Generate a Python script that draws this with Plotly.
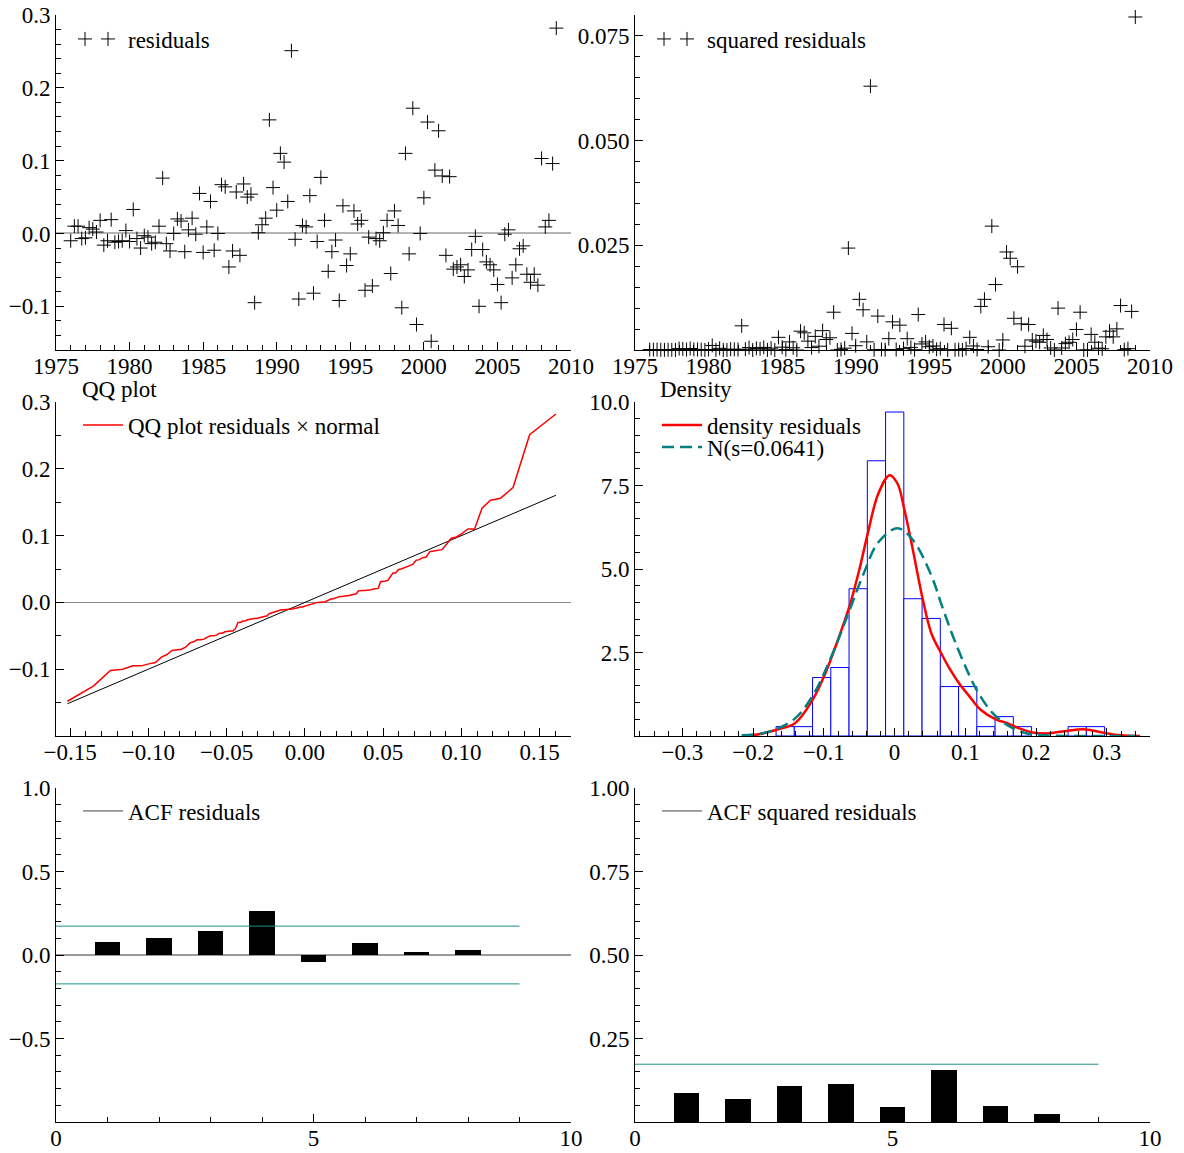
import plotly.graph_objects as go
from statistics import NormalDist, mean

# ---------------- data ----------------
start_year = 1976.0          # first quarterly observation (1976Q1)
quarter_step = 0.25

residuals = [
    -0.010, 0.010, 0.010, -0.007,     # 1976
    -0.006, 0.008, 0.006, 0.002,      # 1977
    0.018, -0.016, -0.010, 0.019,     # 1978
    -0.012, -0.011, -0.010, 0.004,    # 1979
    -0.011, 0.033, -0.007, -0.020,    # 1980
    -0.003, -0.005, -0.014, -0.012,   # 1981
    0.010, 0.076, -0.014, -0.024,     # 1982
    0.000, 0.020, 0.017, -0.025,      # 1983
    0.005, 0.021, -0.001, 0.055,      # 1984
    -0.026, 0.009, 0.044, -0.023,     # 1985
    0.000, 0.067, 0.064, -0.046,      # 1986
    -0.024, 0.057, -0.030, 0.068,     # 1987
    0.050, 0.054, -0.095, 0.001,      # 1988
    0.012, 0.021, 0.156, 0.063,       # 1989
    0.032, 0.110, 0.098, 0.044,       # 1990
    0.251, -0.008, -0.090, 0.011,     # 1991
    0.009, 0.052, -0.082, -0.011,     # 1992
    0.077, 0.018, -0.052, -0.025,     # 1993
    -0.009, -0.092, 0.038, -0.044,    # 1994
    -0.028, 0.031, 0.013, 0.018,      # 1995
    -0.078, -0.005, -0.072, -0.007,   # 1996
    -0.010, 0.001, 0.018, -0.055,     # 1997
    0.031, 0.011, -0.102, 0.110,      # 1998
    -0.028, 0.172, -0.125, 0.000,     # 1999
    0.049, 0.153, -0.148, 0.087,      # 2000
    0.141, 0.079, -0.030, 0.078,      # 2001
    -0.049, -0.046, -0.043, -0.059,   # 2002
    -0.050, -0.022, -0.004, -0.100,   # 2003
    -0.022, -0.039, -0.043, -0.050,   # 2004
    -0.070, -0.095, -0.001, 0.005,    # 2005
    -0.061, -0.043, -0.021, -0.017,   # 2006
    -0.056, -0.067, -0.056, -0.071,   # 2007
    0.103, 0.009, 0.018, 0.096,       # 2008
    0.282,                            # 2009
]

normal_s = 0.0641

# histogram (density scale), non-empty bins only
hist_bin_width = 0.0258
hist_left_edges = [-0.1676, -0.1418, -0.1160, -0.0902, -0.0644, -0.0386, -0.0128,
                   0.0130, 0.0388, 0.0646, 0.0904, 0.1162, 0.1420, 0.1678,
                   0.2452, 0.2710]
hist_density = [0.28, 0.28, 1.75, 2.05, 4.41, 8.24, 9.70,
                4.11, 3.52, 1.48, 1.48, 0.28, 0.58, 0.28,
                0.28, 0.28]

# kernel density of residuals
kde_x = [-0.216, -0.19, -0.168, -0.141, -0.116, -0.098, -0.082, -0.064, -0.050, -0.038,
         -0.023, -0.007, 0.004, 0.014, 0.025, 0.040, 0.052, 0.066, 0.079, 0.091,
         0.106, 0.122, 0.143, 0.160, 0.176, 0.197, 0.218, 0.245, 0.267, 0.288,
         0.315, 0.347]
kde_y = [0.00, 0.06, 0.18, 0.38, 1.08, 1.87, 2.77, 3.87, 4.97, 6.06,
         7.26, 7.81, 7.56, 6.76, 5.66, 4.07, 3.07, 2.47, 1.97, 1.58,
         1.18, 0.78, 0.50, 0.38, 0.23, 0.10, 0.08, 0.16, 0.20, 0.13,
         0.03, 0.00]

# fitted normal density
norm_x = [-0.216, -0.19, -0.168, -0.141, -0.116, -0.089, -0.064, -0.044, -0.023, 0.004,
          0.025, 0.052, 0.066, 0.084, 0.106, 0.118, 0.138, 0.160, 0.186, 0.213,
          0.256, 0.342]
norm_y = [0.02, 0.07, 0.20, 0.52, 1.20, 2.40, 3.75, 4.85, 5.80, 6.22,
          5.89, 4.80, 3.95, 2.90, 1.80, 1.30, 0.70, 0.32, 0.08, 0.02,
          0.00, 0.00]

# autocorrelations
acf_lags = [1, 2, 3, 4, 5, 6, 7, 8]
acf_residuals = [0.075, 0.099, 0.141, 0.262, -0.040, 0.069, 0.020, 0.030]
acf_sq_residuals = [0.088, 0.069, 0.108, 0.114, 0.045, 0.156, 0.047, 0.024]
acf_band = 0.173
acf_band_lags = [0, 9]

# tick labels
year_ticks = [1975, 1980, 1985, 1990, 1995, 2000, 2005, 2010]
res_ticks = [-0.1, 0.0, 0.1, 0.2, 0.3]
sq_ticks = [0.025, 0.050, 0.075]
qq_x_ticks = [-0.15, -0.10, -0.05, 0.00, 0.05, 0.10, 0.15]
qq_y_ticks = [-0.1, 0.0, 0.1, 0.2, 0.3]
dens_x_ticks = [-0.3, -0.2, -0.1, 0, 0.1, 0.2, 0.3]
dens_x_text = ["\u22120.3", "\u22120.2", "\u22120.1", "0", "0.1", "0.2", "0.3"]
dens_y_ticks = [2.5, 5.0, 7.5, 10.0]
acf_x_ticks = [0, 5, 10]
acf_y_ticks = [-0.5, 0.0, 0.5, 1.0]
acfsq_y_ticks = [0.25, 0.50, 0.75, 1.00]

# ---------------- derived series ----------------
years = [start_year + quarter_step * i for i in range(len(residuals))]
sq_residuals = [r * r for r in residuals]
n = len(residuals)
mu = mean(residuals)
qq_y = sorted(residuals)
qq_x = [mu + normal_s * NormalDist().inv_cdf(i / (n + 1)) for i in range(1, n + 1)]
hist_centers = [e + hist_bin_width / 2 for e in hist_left_edges]

# ---------------- layout helpers ----------------
W, H = 1184, 1153
FONT = "Liberation Serif"
FS = 23


def dom_x(a, b):
    return [a / W, b / W]


def dom_y(top, bottom):
    return [1 - bottom / H, 1 - top / H]


def fmt(v, d):
    s = f"{abs(v):.{d}f}"
    return ("\u2212" + s) if v < 0 else s


def axis(domain, rng, tickvals, ticktext, minor_dtick, anchor, is_x, **kw):
    d = dict(domain=domain, range=rng, anchor=anchor,
             showline=True, linecolor="black", linewidth=1,
             ticks="inside", ticklen=8, tickwidth=1, tickcolor="black",
             tickmode="array", tickvals=tickvals, ticktext=ticktext,
             minor=dict(ticks="inside", ticklen=5, tickwidth=1, tickcolor="black",
                        dtick=minor_dtick, tick0=0, showgrid=False),
             showgrid=False, zeroline=False, automargin=False, fixedrange=True,
             tickfont=dict(family=FONT, size=FS, color="black"))
    if is_x:
        d["ticklabelstandoff"] = -5
    d.update(kw)
    return d


LX = dom_x(56, 571)
RX = dom_x(635, 1150)
ROW1 = dom_y(15, 350)
ROW2 = dom_y(402, 736)
ROW3 = dom_y(788, 1122)

fig = go.Figure()

cross = dict(symbol="cross-thin", size=10, color="black", line=dict(color="black", width=1))

# panel 1: residuals
fig.add_trace(go.Scatter(x=years, y=residuals, mode="markers", marker=cross,
                         name="residuals", xaxis="x", yaxis="y", legend="legend",
                         cliponaxis=False))
fig.add_trace(go.Scatter(x=[None], y=[None], mode="markers", marker=cross, name=" ",
                         xaxis="x", yaxis="y", legend="legend8"))
# panel 2: squared residuals
fig.add_trace(go.Scatter(x=years, y=sq_residuals, mode="markers", marker=cross,
                         name="squared residuals", xaxis="x2", yaxis="y2", legend="legend2",
                         cliponaxis=False))
fig.add_trace(go.Scatter(x=[None], y=[None], mode="markers", marker=cross, name=" ",
                         xaxis="x2", yaxis="y2", legend="legend9"))
# panel 3: QQ plot
fig.add_trace(go.Scatter(x=[qq_x[0], qq_x[-1]], y=[qq_x[0], qq_x[-1]], mode="lines",
                         line=dict(color="black", width=1), showlegend=False,
                         xaxis="x3", yaxis="y3"))
fig.add_trace(go.Scatter(x=qq_x, y=qq_y, mode="lines", line=dict(color="red", width=1.5),
                         name="QQ plot residuals \u00d7 normal", xaxis="x3", yaxis="y3",
                         legend="legend3"))
# panel 4: density
fig.add_trace(go.Bar(x=hist_centers, y=hist_density, width=hist_bin_width,
                     marker=dict(color="white", line=dict(color="#0000ff", width=1)),
                     showlegend=False, xaxis="x4", yaxis="y4"))
fig.add_trace(go.Scatter(x=kde_x, y=kde_y, mode="lines", line=dict(color="red", width=2.5, shape="spline"),
                         name="density residuals", xaxis="x4", yaxis="y4", legend="legend4"))
fig.add_trace(go.Scatter(x=norm_x, y=norm_y, mode="lines",
                         line=dict(color="#008080", width=2.5, dash="12px,6px", shape="spline"),
                         name=f"N(s={normal_s})", xaxis="x4", yaxis="y4", legend="legend5"))
# panel 5: ACF residuals
fig.add_trace(go.Bar(x=acf_lags, y=acf_residuals, width=0.5, marker=dict(color="black", line=dict(width=0)),
                     showlegend=False, xaxis="x5", yaxis="y5"))
for sgn in (1, -1):
    fig.add_trace(go.Scatter(x=acf_band_lags, y=[sgn * acf_band] * len(acf_band_lags), mode="lines",
                             line=dict(color="#1f8f8f", width=1), showlegend=False,
                             xaxis="x5", yaxis="y5"))
fig.add_trace(go.Scatter(x=[None], y=[None], mode="lines", line=dict(color="#404040", width=1),
                         name="ACF residuals", xaxis="x5", yaxis="y5", legend="legend6"))
# panel 6: ACF squared residuals
fig.add_trace(go.Bar(x=acf_lags, y=acf_sq_residuals, width=0.5, marker=dict(color="black", line=dict(width=0)),
                     showlegend=False, xaxis="x6", yaxis="y6"))
fig.add_trace(go.Scatter(x=acf_band_lags, y=[acf_band] * len(acf_band_lags), mode="lines",
                         line=dict(color="#1f8f8f", width=1), showlegend=False,
                         xaxis="x6", yaxis="y6"))
fig.add_trace(go.Scatter(x=[None], y=[None], mode="lines", line=dict(color="#404040", width=1),
                         name="ACF squared residuals", xaxis="x6", yaxis="y6", legend="legend7"))


def legend_at(px, py, itemwidth=30):
    return dict(x=px / W, y=1 - py / H, xanchor="left", yanchor="middle",
                bgcolor="rgba(0,0,0,0)", borderwidth=0, itemwidth=itemwidth,
                font=dict(family=FONT, size=FS, color="black"))


fig.update_layout(
    width=W, height=H, margin=dict(l=0, r=0, t=0, b=0),
    paper_bgcolor="white", plot_bgcolor="white", showlegend=True,
    font=dict(family=FONT, size=FS, color="black"),
    hovermode=False,
    xaxis=axis(LX, [1975, 2010], year_ticks, [str(v) for v in year_ticks], 1, "y", True),
    yaxis=axis(ROW1, [-0.16, 0.3], res_ticks, [fmt(v, 1) for v in res_ticks], 0.02, "x", False,
               zeroline=True, zerolinecolor="#b4b4b4", zerolinewidth=2),
    xaxis2=axis(RX, [1975, 2010], year_ticks, [str(v) for v in year_ticks], 1, "y2", True),
    yaxis2=axis(ROW1, [0, 0.08], sq_ticks, [fmt(v, 3) for v in sq_ticks], 0.005, "x2", False),
    xaxis3=axis(LX, [-0.159, 0.170], qq_x_ticks, [fmt(v, 2) for v in qq_x_ticks], 0.01, "y3", True),
    yaxis3=axis(ROW2, [-0.2, 0.3], qq_y_ticks, [fmt(v, 1) for v in qq_y_ticks], 0.05, "x3", False,
                zeroline=True, zerolinecolor="#888888", zerolinewidth=1),
    xaxis4=axis(RX, [-0.367, 0.361], dens_x_ticks, dens_x_text, 0.02, "y4", True),
    yaxis4=axis(ROW2, [0, 10], dens_y_ticks, [fmt(v, 1) for v in dens_y_ticks], 0.5, "x4", False),
    xaxis5=axis(LX, [0, 10], acf_x_ticks, [str(v) for v in acf_x_ticks], 1, "y5", True),
    yaxis5=axis(ROW3, [-1, 1], acf_y_ticks, [fmt(v, 1) for v in acf_y_ticks], 0.1, "x5", False,
                zeroline=True, zerolinecolor="#999999", zerolinewidth=1.5),
    xaxis6=axis(RX, [0, 10], acf_x_ticks, [str(v) for v in acf_x_ticks], 1, "y6", True),
    yaxis6=axis(ROW3, [0, 1], acfsq_y_ticks, [fmt(v, 2) for v in acfsq_y_ticks], 0.05, "x6", False),
    legend=legend_at(88, 39),
    legend8=legend_at(65, 39),
    legend2=legend_at(667, 39),
    legend9=legend_at(644, 39),
    legend3=legend_at(78, 425, 40),
    legend4=legend_at(657, 425, 40),
    legend5=legend_at(657, 447, 40),
    legend6=legend_at(78, 811, 40),
    legend7=legend_at(657, 811, 40),
    bargap=0,
    annotations=[
        dict(text="QQ plot", x=80 / W, y=1 - 390 / H, xref="paper", yref="paper",
             xanchor="left", yanchor="middle", showarrow=False,
             font=dict(family=FONT, size=FS, color="black")),
        dict(text="Density", x=658 / W, y=1 - 390 / H, xref="paper", yref="paper",
             xanchor="left", yanchor="middle", showarrow=False,
             font=dict(family=FONT, size=FS, color="black")),
    ],
)

fig.write_html("out.html", config={"displayModeBar": False, "staticPlot": True},
               post_script="document.body.style.margin='0';document.body.style.overflow='hidden';")
